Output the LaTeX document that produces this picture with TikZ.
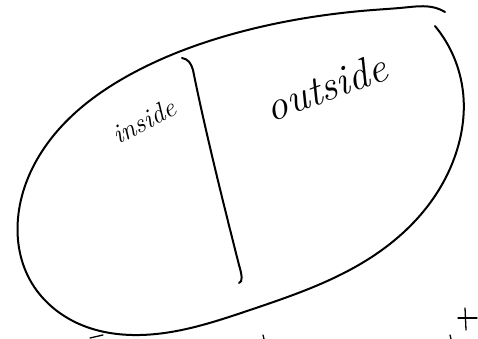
\documentclass[tikz,border=0pt]{standalone}
\usepackage{tikz}
\usetikzlibrary{hobby}
\begin{document}
\begin{tikzpicture}[x=1pt,y=-1pt,
  stroke/.style={line width=2pt,line cap=round,line join=round},
  thin stroke/.style={line width=1.3pt,line cap=round},
  hand/.style={font=\itshape,inner sep=0pt}]
\useasboundingbox (0,0) rectangle (478,339);
% outer loop
\draw[stroke,use Hobby shortcut] (445,12) .. (434,7.5) .. (405,7.5) .. (373,10) .. (240,32) .. (133,73)
  .. (50,140) .. (19,210) .. (30,280) .. (77,323) .. (140,335) .. (250,310)
  .. (367,260) .. (427,207) .. (457,150) .. (463,92) .. (435,26);
% divider
\draw[stroke] (182,58) .. controls (188,59) and (191,63) .. (193,70)
  .. controls (205,130) and (225,210) .. (239,265)
  .. controls (242,275) and (243,282) .. (239,283);
% labels
\node[hand,font=\itshape\fontsize{27}{30}\selectfont,rotate=28] (inside) at (144,121) {inside};
\node[hand,font=\itshape\fontsize{42}{44}\selectfont,rotate=20] (outside) at (326,87) {outside};
% plus mark
\draw[thin stroke] (458,318) -- (477,318);
\draw[thin stroke] (465,308) -- (466,330);
% stray marks at bottom edge
\draw[thin stroke] (90,338) -- (103,335);
\draw[thin stroke] (263,335) -- (264,339);
\draw[thin stroke] (450,335) -- (451,339);
\end{tikzpicture}
\end{document}
